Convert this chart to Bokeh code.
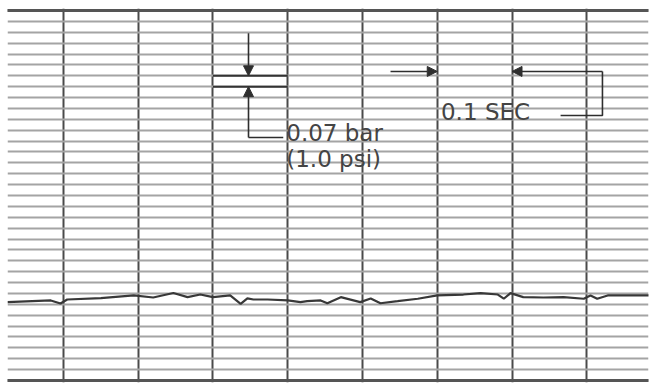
from bokeh.plotting import figure
from bokeh.models import Range1d, FixedTicker, Arrow, NormalHead, Label
from bokeh.embed import file_html
from bokeh.resources import INLINE

# ---- data (time in seconds, pressure in bar) ----
time_s = [-0.075, -0.017, -0.004, 0.005, 0.050, 0.094, 0.120, 0.147, 0.166, 0.183,
          0.200, 0.223, 0.237, 0.246, 0.254, 0.273, 0.300, 0.317, 0.326, 0.344,
          0.353, 0.371, 0.397, 0.411, 0.424, 0.447, 0.474, 0.500, 0.535, 0.558,
          0.581, 0.589, 0.598, 0.615, 0.642, 0.669, 0.696, 0.705, 0.714, 0.728,
          0.759, 0.786]
pressure_bar = [0.504, 0.515, 0.495, 0.521, 0.530, 0.547, 0.534, 0.563, 0.536, 0.553,
                0.536, 0.547, 0.493, 0.528, 0.521, 0.521, 0.515, 0.504, 0.510, 0.515,
                0.497, 0.536, 0.504, 0.528, 0.497, 0.510, 0.526, 0.547, 0.553, 0.562,
                0.553, 0.526, 0.562, 0.536, 0.534, 0.536, 0.526, 0.547, 0.526, 0.547,
                0.547, 0.547]

# chart paper divisions
time_div = 0.1      # s per vertical division
press_div = 0.07    # bar per horizontal division
time_lines = [0.0, 0.1, 0.2, 0.3, 0.4, 0.5, 0.6, 0.7]
n_press_lines = 35
press_lines = [round(press_div * k, 2) for k in range(n_press_lines)]
press_top = press_lines[-1]

label_bar = "0.07 bar"
label_psi = "(1.0 psi)"
label_sec = "0.1 SEC"

p = figure(width=651, height=385, output_backend="svg", toolbar_location=None,
           x_range=Range1d(-0.0749, 0.7826), y_range=Range1d(-0.0129, 2.3929),
           min_border_left=7, min_border_right=3, min_border_top=8, min_border_bottom=3,
           outline_line_color=None, background_fill_color="white",
           border_fill_color="white")
p.xaxis.visible = False
p.yaxis.visible = False

p.xgrid.ticker = FixedTicker(ticks=time_lines)
p.xgrid.grid_line_color = "#4a4a4a"
p.xgrid.grid_line_width = 2
p.ygrid.ticker = FixedTicker(ticks=press_lines)
p.ygrid.grid_line_color = "#a4a4a4"
p.ygrid.grid_line_width = 2

# darker top and bottom edges of the chart paper
p.segment(x0=[-0.08, -0.08], y0=[0.0, press_top], x1=[0.8, 0.8], y1=[0.0, press_top],
          line_color="#555555", line_width=3)

# pressure scale: two darker lines over one division
lvl_hi = 28 * press_div
lvl_lo = 27 * press_div
p.segment(x0=[0.2, 0.2], y0=[lvl_hi, lvl_lo], x1=[0.3, 0.3], y1=[lvl_hi, lvl_lo],
          line_color="#333333", line_width=2)

# trace
p.line(time_s, pressure_bar, line_color="#383838", line_width=2.2)

ink = "#2e2e2e"
arrow_x = 0.2475
p.add_layout(Arrow(end=NormalHead(size=10, fill_color=ink, line_color=ink),
                   x_start=arrow_x, y_start=2.233, x_end=arrow_x, y_end=lvl_hi,
                   line_color=ink, line_width=1.6))
p.add_layout(Arrow(end=NormalHead(size=10, fill_color=ink, line_color=ink),
                   x_start=arrow_x, y_start=1.563, x_end=arrow_x, y_end=lvl_lo,
                   line_color=ink, line_width=1.6))
p.line([arrow_x, 0.294], [1.563, 1.563], line_color=ink, line_width=1.6)

# time scale arrows
ty = 1.988
p.add_layout(Arrow(end=NormalHead(size=10, fill_color=ink, line_color=ink),
                   x_start=0.4375, y_start=ty, x_end=0.5, y_end=ty,
                   line_color=ink, line_width=1.6))
p.add_layout(Arrow(end=NormalHead(size=10, fill_color=ink, line_color=ink),
                   x_start=0.721, y_start=ty, x_end=0.6, y_end=ty,
                   line_color=ink, line_width=1.6))
p.line([0.721, 0.721, 0.665], [ty, 1.705, 1.705], line_color=ink, line_width=1.6)

font = "DejaVu Sans"
for txt, x, y in [(label_bar, 0.298, 1.595), (label_psi, 0.298, 1.428), (label_sec, 0.505, 1.730)]:
    p.add_layout(Label(x=x, y=y, text=txt, text_font=font, text_font_size="23px",
                       text_color="#444444", text_baseline="middle"))

open("out.html", "w").write(file_html(p, INLINE))
